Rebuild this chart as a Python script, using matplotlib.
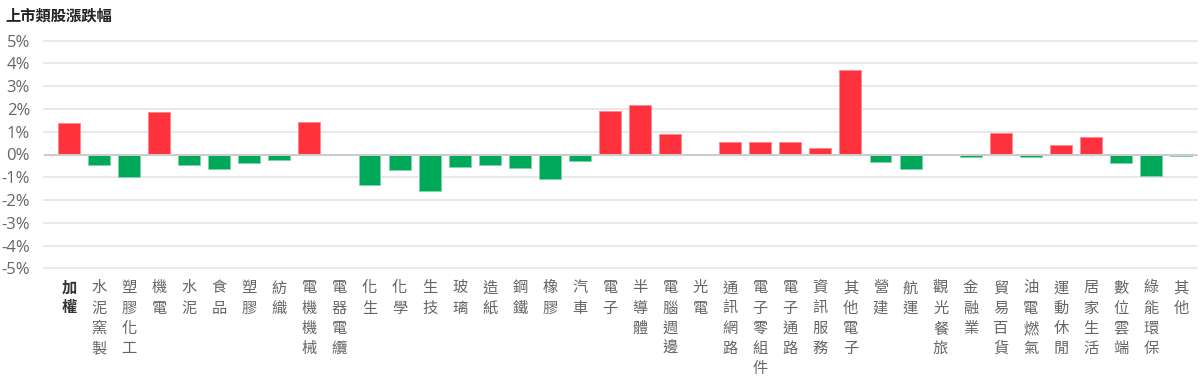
import matplotlib
matplotlib.use("Agg")
import matplotlib.pyplot as plt
import numpy as np

plt.rcParams['font.family'] = ['Noto Sans CJK TC', 'DejaVu Sans']

title = "上市類股漲跌幅"
categories = ["加權", "水泥窯製", "塑膠化工", "機電", "水泥", "食品", "塑膠", "紡織",
              "電機機械", "電器電纜", "化生", "化學", "生技", "玻璃", "造紙", "鋼鐵",
              "橡膠", "汽車", "電子", "半導體", "電腦週邊", "光電", "通訊網路",
              "電子零組件", "電子通路", "資訊服務", "其他電子", "營建", "航運",
              "觀光餐旅", "金融業", "貿易百貨", "油電燃氣", "運動休閒", "居家生活",
              "數位雲端", "綠能環保", "其他"]
changes = [1.38, -0.48, -0.98, 1.88, -0.48, -0.64, -0.38, -0.26,
           1.42, 0.0, -1.33, -0.70, -1.62, -0.55, -0.45, -0.61,
           -1.07, -0.28, 1.89, 2.18, 0.92, 0.0, 0.53,
           0.56, 0.57, 0.29, 3.72, -0.33, -0.64,
           0.0, -0.09, 0.95, -0.10, 0.40, 0.78,
           -0.38, -0.94, -0.08]
yticks = [5, 4, 3, 2, 1, 0, -1, -2, -3, -4, -5]

W, H = 1200, 382
fig = plt.figure(figsize=(W / 100, H / 100), dpi=100)
left, right = 44 / W, 1197 / W
top, bottom = 1 - 40.7 / H, 1 - 268.3 / H
ax = fig.add_axes([left, bottom, right - left, top - bottom])

x = np.arange(len(categories))
colors = ['#fe323c' if v > 0 else '#00a85a' for v in changes]
edges = ['#ff8a8f' if v > 0 else ('#7fd4ab' if v < 0 else 'none') for v in changes]
ax.bar(x, changes, width=0.73, color=colors, edgecolor=edges, linewidth=0.7, zorder=3)

ax.set_ylim(-5, 5)
ax.set_xlim(-0.83, len(categories) - 1 + 0.53)
for s in ax.spines.values():
    s.set_visible(False)
ax.set_yticks(yticks)
ax.set_yticklabels([f"{t}%" for t in yticks], fontsize=12, color='#666666',
                   family=['Open Sans', 'DejaVu Sans'])
ax.tick_params(axis='y', length=0, pad=10)
for t in yticks:
    ax.axhline(t, color='#e6e6e6', lw=1.3, zorder=1, clip_on=False)
ax.axhline(0, color='#cccccc', lw=1.5, zorder=4)

ax.set_xticks(x)
ax.set_xticklabels(["\n".join(c) for c in categories], fontsize=11, color='#666666',
                   linespacing=1.25, va='top')
ax.tick_params(axis='x', length=0, pad=8)
lbls = ax.get_xticklabels()
lbls[0].set_fontweight('bold')
lbls[0].set_color('#333333')

fig.text(5 / W, 1 - 15 / H, title, fontsize=11, color='#222222', fontweight='bold',
         va='center', ha='left')

fig.savefig("out.png", dpi=100, facecolor='white')
